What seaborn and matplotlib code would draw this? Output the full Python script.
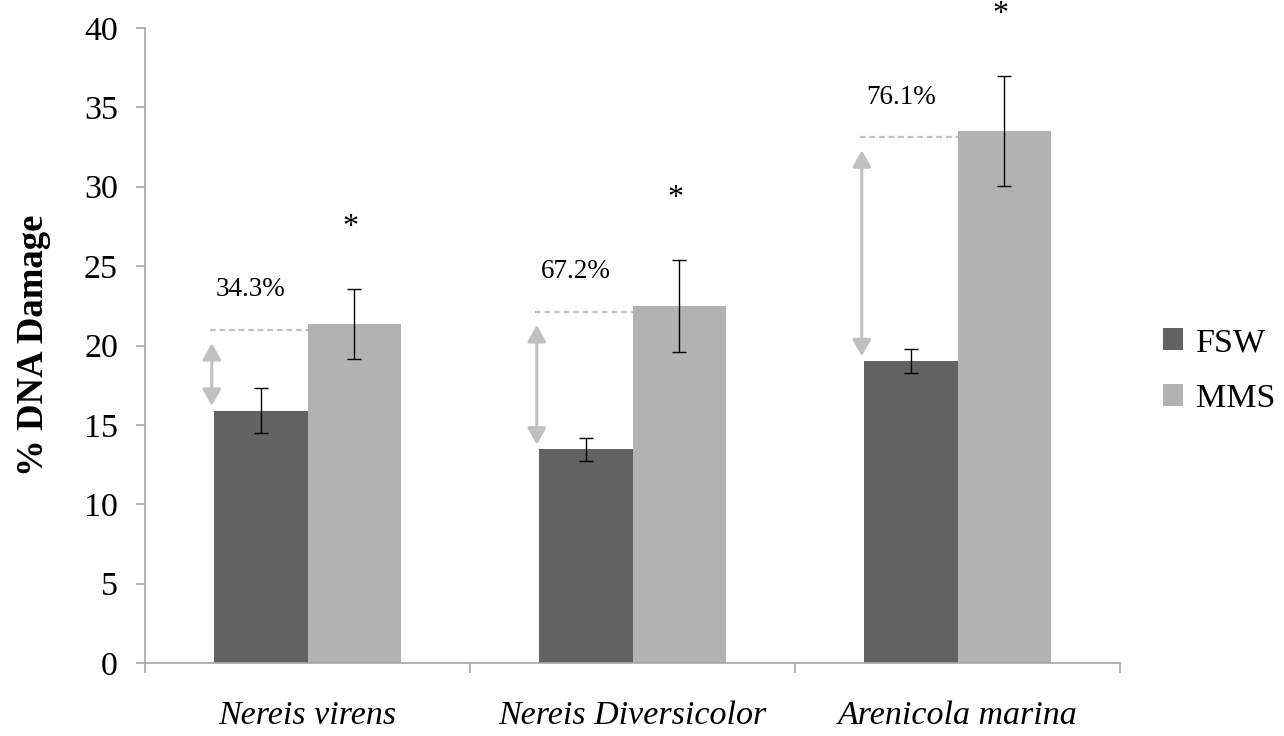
import matplotlib
matplotlib.use("Agg")
import matplotlib.pyplot as plt
import numpy as np
import pandas as pd
import seaborn as sns
from matplotlib.patches import FancyArrowPatch

# Mean % DNA damage (comet assay) with error, per species and exposure
species = ["Nereis virens", "Nereis Diversicolor", "Arenicola marina"]
treatments = ["FSW", "MMS"]
fsw_mean = [15.9, 13.45, 19.02]
fsw_err = [1.4, 0.72, 0.75]
mms_mean = [21.35, 22.49, 33.5]
mms_err = [2.2, 2.9, 3.45]
y_ticks = [0, 5, 10, 15, 20, 25, 30, 35, 40]

df = pd.DataFrame({
    "species": species * 2,
    "treatment": ["FSW"] * len(species) + ["MMS"] * len(species),
    "damage": fsw_mean + mms_mean,
})

sns.set_theme(style="white")
plt.rcParams["font.family"] = ["Liberation Serif", "DejaVu Serif"]
plt.rcParams["text.color"] = "black"
plt.rcParams["axes.labelcolor"] = "black"
plt.rcParams["xtick.labelcolor"] = "black"
plt.rcParams["ytick.labelcolor"] = "black"

W, H = 1284, 736
fig = plt.figure(figsize=(W / 100, H / 100), dpi=100)
ax = fig.add_axes([145 / W, 73 / H, 975 / W, 635 / H])

sns.barplot(
    data=df, x="species", y="damage", hue="treatment",
    order=species, hue_order=treatments,
    palette=["#626262", "#b2b2b2"], saturation=1,
    width=0.573, errorbar=None, linewidth=0, ax=ax,
)

grey = "#a6a6a6"
ax.set_xlim(-0.5, len(species) - 0.5)
ax.set_ylim(0, 40)
ax.set_yticks(y_ticks)
ax.set_xlabel("")
ax.set_ylabel("% DNA Damage", fontsize=26.5, fontweight="bold", labelpad=24,
              color="black")

for side in ("top", "right"):
    ax.spines[side].set_visible(False)
for side in ("left", "bottom"):
    ax.spines[side].set_color(grey)
    ax.spines[side].set_linewidth(1.2)

ax.tick_params(axis="y", which="major", left=True, length=6.5, width=1.2,
               color=grey, labelsize=24.5, pad=13, labelcolor="black")
ax.tick_params(axis="x", which="major", bottom=False, length=0,
               labelsize=24.5, pad=27, labelcolor="black")
for lab in ax.get_xticklabels():
    lab.set_fontstyle("italic")
ax.set_xticks(np.arange(-0.5, len(species)), minor=True)
ax.tick_params(axis="x", which="minor", bottom=True, length=7.5, width=1.2,
               color=grey)

fsw_bars, mms_bars = ax.containers[0], ax.containers[1]

# error bars on each bar
for bars, errs in ((fsw_bars, fsw_err), (mms_bars, mms_err)):
    for bar, e in zip(bars, errs):
        cx = bar.get_x() + bar.get_width() / 2
        ax.errorbar(cx, bar.get_height(), yerr=e, fmt="none", ecolor="black",
                    elinewidth=1, capsize=5, capthick=1, zorder=4)

# increase from FSW to MMS: dashed level, double arrow, percentage, asterisk
for fb, mb, me in zip(fsw_bars, mms_bars, mms_err):
    left = fb.get_x()
    level = mb.get_height() - 0.35
    ax.plot([left - 0.012, mb.get_x()], [level, level], color="#c0c0c0",
            lw=1.6, ls=(0, (2.5, 1.8)), zorder=3)
    arrow = FancyArrowPatch(
        (left - 0.008, fb.get_height() + 0.3), (left - 0.008, level - 0.85),
        arrowstyle="<|-|>,head_length=0.5,head_width=0.28",
        mutation_scale=20, color="#c0c0c0", lw=2.2,
        shrinkA=0, shrinkB=0, zorder=3,
    )
    ax.add_patch(arrow)
    pct = (mb.get_height() / fb.get_height() - 1) * 100
    ax.text(left + 0.005, level + 2.5, f"{pct:.1f}%", ha="left", va="center",
            fontsize=19.5, color="black")
    ax.text(mb.get_x() + mb.get_width() / 2 - 0.01, mb.get_height() + me + 3.9,
            "*", ha="center", va="center", fontsize=23, color="black",
            clip_on=False)

handles, labels = ax.get_legend_handles_labels()
leg = ax.legend(handles, labels, loc="center left",
                bbox_to_anchor=(1163 / W, 1 - 371 / H),
                bbox_transform=fig.transFigure,
                frameon=False, fontsize=24.5, handlelength=0.6,
                handleheight=0.6, handletextpad=0.36, labelspacing=0.75,
                borderpad=0, borderaxespad=0)
for t in leg.get_texts():
    t.set_color("black")

fig.savefig("out.png", dpi=100)
